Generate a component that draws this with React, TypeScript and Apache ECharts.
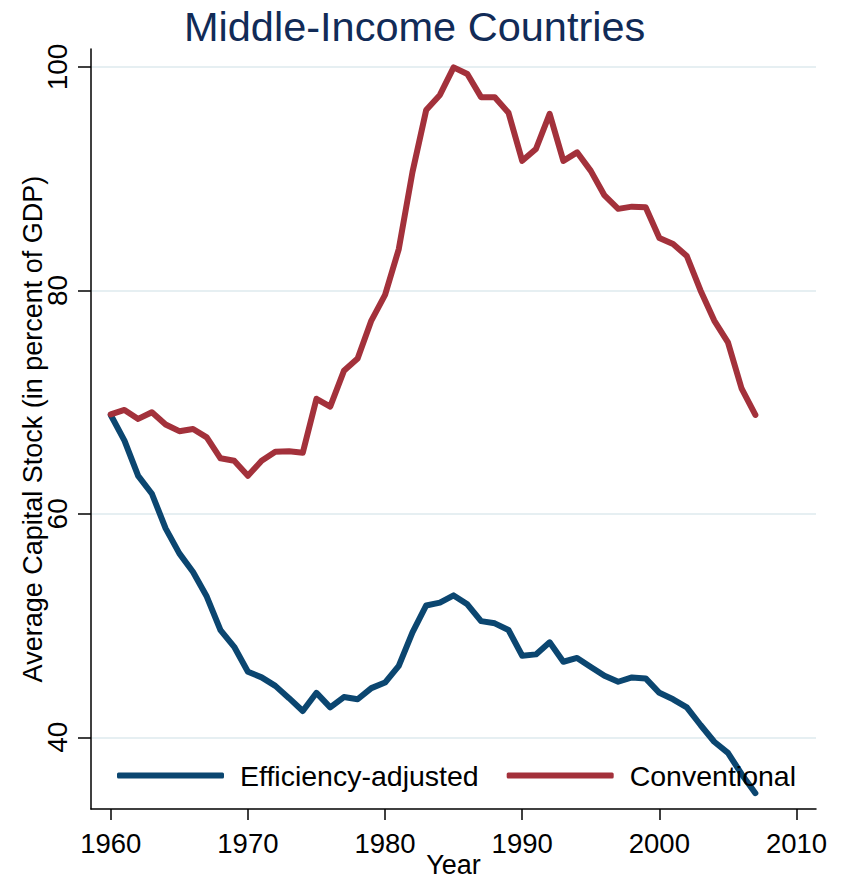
import React, { useEffect, useRef } from "react";
import * as echarts from "echarts";

const years: number[] = [];
for (let y = 1960; y <= 2007; y++) years.push(y);

const efficiencyAdjusted = [
  68.85, 66.55, 63.4, 61.8, 58.7, 56.46, 54.8, 52.6, 49.6, 48.1,
  45.86, 45.36, 44.6, 43.5, 42.35, 43.98, 42.68, 43.6, 43.4, 44.4,
  44.9, 46.4, 49.4, 51.8, 52.05, 52.7, 51.9, 50.4, 50.2, 49.6,
  47.3, 47.42, 48.5, 46.76, 47.1, 46.3, 45.5, 44.97, 45.36, 45.27,
  43.98, 43.4, 42.68, 41.1, 39.6, 38.6, 36.7, 35.0,
];

const conventional = [
  68.9, 69.3, 68.5, 69.1, 68.0, 67.4, 67.6, 66.85, 64.97, 64.76,
  63.4, 64.76, 65.56, 65.6, 65.47, 70.3, 69.6, 72.8, 73.9, 77.3,
  79.6, 83.7, 90.6, 96.15, 97.5, 99.97, 99.37, 97.3, 97.3, 95.9,
  91.6, 92.66, 95.8, 91.6, 92.36, 90.7, 88.5, 87.3, 87.5, 87.44,
  84.7, 84.15, 83.08, 80.0, 77.3, 75.35, 71.2, 68.85,
];

const xTicks = [1960, 1970, 1980, 1990, 2000, 2010];
const yTicks = [40, 60, 80, 100];

const seriesNames = ["Efficiency-adjusted", "Conventional"];
const seriesColors = ["#0b4670", "#a3313b"];

export default function App() {
  const ref = useRef<HTMLDivElement>(null);
  useEffect(() => {
    if (!ref.current) return;
    const chart = echarts.init(ref.current, undefined, { renderer: "svg" });
    const font = "'Liberation Sans', Arial, sans-serif";
    const toPairs = (vals: number[]) => vals.map((v, i) => [years[i], v]);
    chart.setOption({
      animation: false,
      backgroundColor: "#ffffff",
      title: {
        text: "Middle-Income Countries",
        left: 179,
        top: 0,
        textStyle: {
          fontFamily: font,
          fontSize: 41.5,
          fontWeight: "normal",
          color: "#112b57",
        },
      },
      legend: {
        data: seriesNames,
        left: 112,
        top: 756,
        icon: "roundRect",
        itemWidth: 107,
        itemHeight: 6,
        itemGap: 28,
        textStyle: {
          fontFamily: font,
          fontSize: 28.5,
          color: "#000",
          padding: [0, 0, 0, 11],
        },
      },
      grid: {
        left: 91,
        width: 725,
        top: 49,
        height: 760,
        containLabel: false,
        outerBoundsMode: "none",
      },
      xAxis: {
        type: "value",
        min: 1958.56,
        max: 2011.42,
        name: "Year",
        nameLocation: "middle",
        nameGap: 42,
        nameMoveOverlap: false,
        nameTextStyle: { fontFamily: font, fontSize: 27, color: "#000" },
        axisLine: { show: true, lineStyle: { color: "#000", width: 1.5 } },
        axisTick: {
          show: true,
          length: 11,
          customValues: xTicks,
          lineStyle: { color: "#000", width: 1.5 },
        },
        axisLabel: {
          customValues: xTicks,
          formatter: (v: number) => String(v),
          margin: 20,
          fontFamily: font,
          fontSize: 27.5,
          color: "#000",
        },
        splitLine: { show: false },
      },
      yAxis: {
        type: "value",
        min: 33.58,
        max: 101.61,
        name: "Average Capital Stock (in percent of GDP)",
        nameLocation: "middle",
        nameGap: 45,
        nameMoveOverlap: false,
        nameTextStyle: { fontFamily: font, fontSize: 27, color: "#000" },
        axisLine: { show: true, lineStyle: { color: "#000", width: 1.5 } },
        axisTick: {
          show: true,
          length: 13,
          customValues: yTicks,
          lineStyle: { color: "#000", width: 1.5 },
        },
        axisLabel: {
          customValues: yTicks,
          formatter: (v: number) => String(v),
          rotate: 90,
          margin: 20,
          fontFamily: font,
          fontSize: 28,
          color: "#000",
        },
        splitLine: { show: true, lineStyle: { color: "#e6eff2", width: 2 } },
      },
      series: [
        {
          name: seriesNames[0],
          type: "line",
          data: toPairs(efficiencyAdjusted),
          symbol: "none",
          color: seriesColors[0],
          lineStyle: { width: 6, color: seriesColors[0], cap: "round", join: "round" },
        },
        {
          name: seriesNames[1],
          type: "line",
          data: toPairs(conventional),
          symbol: "none",
          color: seriesColors[1],
          lineStyle: { width: 6, color: seriesColors[1], cap: "round", join: "round" },
        },
      ],
    });
    return () => chart.dispose();
  }, []);
  return (
    <div
      ref={ref}
      style={{ position: "absolute", left: 0, top: 0, width: 842, height: 879 }}
    />
  );
}
